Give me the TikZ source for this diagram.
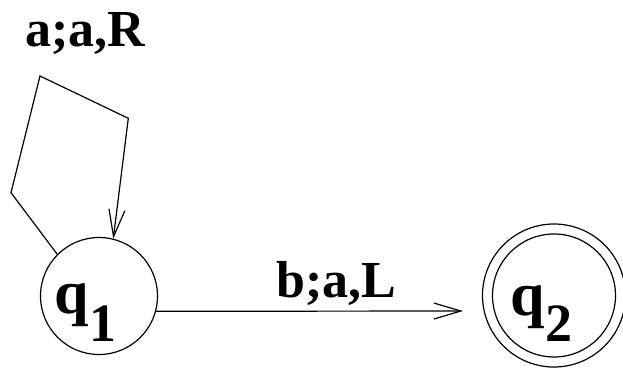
\documentclass[tikz,border=0pt]{standalone}
\usepackage{fontspec}
\setmainfont{Liberation Serif}
\usetikzlibrary{arrows.meta}
\begin{document}
\begin{tikzpicture}[x=1pt,y=-1pt,
  line width=1.2pt,
  state/.style={circle,draw,minimum size=117pt,inner sep=0pt},
  lbl/.style={inner sep=0pt,anchor=base west,font=\fontsize{52pt}{52pt}\selectfont\bfseries},
  qtxt/.style={inner sep=0pt,anchor=base west,font=\fontsize{62pt}{62pt}\selectfont\bfseries},
  barb/.style={-{Straight Barb[length=27pt,width=16pt]}}]
\useasboundingbox (0,0) rectangle (623,368);
\node[state] (q1) at (99,296) {};
\node[state,minimum size=123pt] (q2) at (554,295.5) {};
\node[circle,draw,minimum size=143pt,inner sep=0pt] (q2o) at (554,295.5) {};
\node[qtxt] (t1) at (54,313) {q\raisebox{-28pt}{\fontsize{54pt}{54pt}\selectfont 1}};
\node[qtxt] (t2) at (510,315) {q\raisebox{-26pt}{\fontsize{54pt}{54pt}\selectfont 2}};
\node[lbl] (la) at (25,46.7) {a;a,R};
\node[lbl] (lb) at (276,297) {b;a,L};
\coordinate (p1) at (11,192.7);
\coordinate (p2) at (40,76);
\coordinate (p3) at (128.3,118.3);
\coordinate (e) at (463,311);
\draw[barb] (q1.135) -- (p1) -- (p2) -- (p3) -- (q1.76);
\draw[barb] (q1.-15) -- (e);
\end{tikzpicture}
\end{document}
